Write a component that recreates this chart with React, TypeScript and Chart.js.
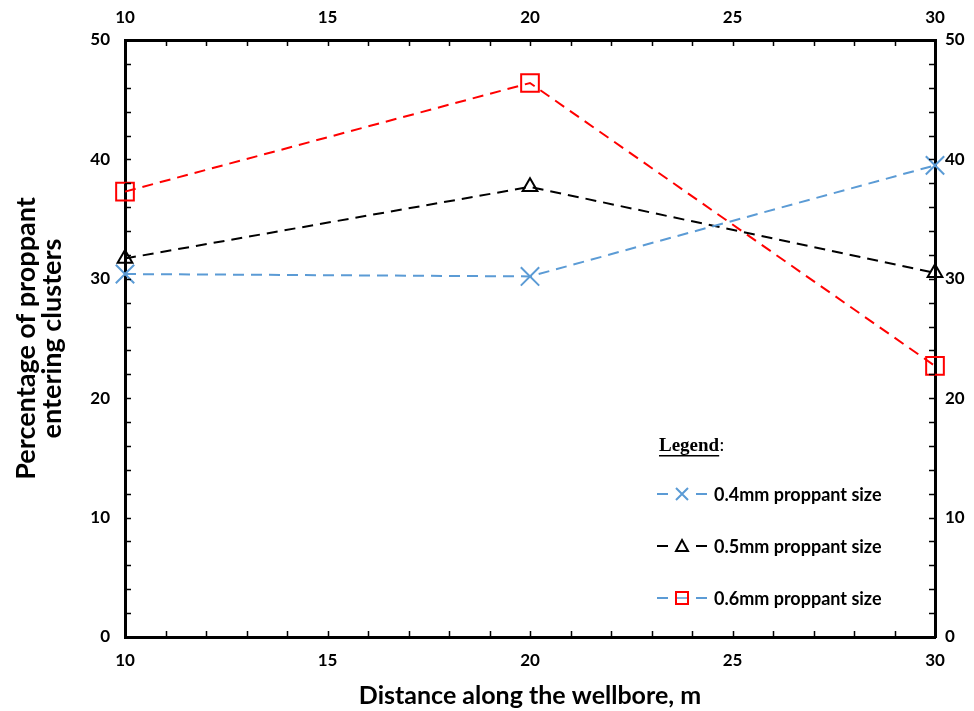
import React, { useEffect, useRef } from "react";
import { Chart, registerables } from "chart.js";

Chart.register(...registerables);

const distances = [10, 20, 30];
const size04 = [30.4, 30.2, 39.5];
const size05 = [31.7, 37.7, 30.5];
const size06 = [37.3, 46.4, 22.7];
const seriesLabels = ["0.4mm proppant size", "0.5mm proppant size", "0.6mm proppant size"];
const xTitle = "Distance along the wellbore, m";
const yTitle = ["Percentage of proppant", "entering clusters"];

const BLUE = "#5B9BD5";
const RED = "#FF0000";
const BLACK = "#000000";
const TICK_FONT = { family: "Lato", size: 17, weight: "bold" as const };

const innerTicks = {
  id: "innerTicks",
  afterDraw(chart: any) {
    const { ctx, chartArea, scales } = chart;
    ctx.save();
    ctx.strokeStyle = "#000";
    ctx.lineWidth = 1.5;
    const x = scales.x;
    for (let v = x.min + 1; v < x.max; v += 1) {
      const px = Math.round(x.getPixelForValue(v)) + 0.5;
      ctx.beginPath();
      ctx.moveTo(px, chartArea.bottom);
      ctx.lineTo(px, chartArea.bottom - 6);
      ctx.moveTo(px, chartArea.top);
      ctx.lineTo(px, chartArea.top + 6);
      ctx.stroke();
    }
    const y = scales.y;
    for (let v = y.min + 2; v < y.max; v += 2) {
      const py = Math.round(y.getPixelForValue(v)) + 0.5;
      ctx.beginPath();
      ctx.moveTo(chartArea.left, py);
      ctx.lineTo(chartArea.left + 6, py);
      ctx.moveTo(chartArea.right, py);
      ctx.lineTo(chartArea.right - 6, py);
      ctx.stroke();
    }
    ctx.restore();
  },
};

const customLegend = {
  id: "customLegend",
  afterDraw(chart: any) {
    const { ctx, chartArea } = chart;
    const lx = chartArea.left + 534;
    const ly = chartArea.top + 406;
    ctx.save();
    ctx.fillStyle = "#000";
    ctx.textBaseline = "middle";
    ctx.font = "bold 19px 'Liberation Serif'";
    const w = ctx.measureText("Legend").width;
    ctx.fillText("Legend", lx, ly);
    ctx.fillRect(lx, ly + 9, w, 1.5);
    ctx.font = "19px 'Liberation Serif'";
    ctx.fillText(":", lx + w, ly);

    const items = [
      { line: BLUE, marker: "crossRot", color: BLUE },
      { line: BLACK, marker: "triangle", color: BLACK },
      { line: BLUE, marker: "rect", color: RED },
    ];
    items.forEach((it, i) => {
      const cy = ly + 48 + i * 52;
      const x0 = lx - 2;
      ctx.strokeStyle = it.line;
      ctx.lineWidth = 2;
      ctx.beginPath();
      ctx.moveTo(x0, cy);
      ctx.lineTo(x0 + 11, cy);
      ctx.moveTo(x0 + 39, cy);
      ctx.lineTo(x0 + 50, cy);
      ctx.stroke();
      ctx.strokeStyle = it.color;
      ctx.lineWidth = 2;
      const mx = x0 + 25;
      if (it.marker === "crossRot") {
        ctx.beginPath();
        ctx.moveTo(mx - 6, cy - 6);
        ctx.lineTo(mx + 6, cy + 6);
        ctx.moveTo(mx + 6, cy - 6);
        ctx.lineTo(mx - 6, cy + 6);
        ctx.stroke();
      } else if (it.marker === "triangle") {
        ctx.beginPath();
        ctx.moveTo(mx, cy - 6);
        ctx.lineTo(mx + 6, cy + 5);
        ctx.lineTo(mx - 6, cy + 5);
        ctx.closePath();
        ctx.stroke();
      } else {
        ctx.strokeRect(mx - 6, cy - 6, 12, 12);
        ctx.strokeStyle = it.line;
        ctx.lineWidth = 1.5;
        ctx.beginPath();
        ctx.moveTo(mx - 5, cy);
        ctx.lineTo(mx + 5, cy);
        ctx.stroke();
      }
      ctx.fillStyle = "#000";
      ctx.font = "bold 18px Lato";
      ctx.fillText(seriesLabels[i], x0 + 57, cy + 1);
    });
    ctx.restore();
  },
};

export default function App() {
  const ref = useRef<HTMLCanvasElement>(null);
  useEffect(() => {
    document.body.style.margin = "0";
    const mk = (vals: number[]) => distances.map((d, i) => ({ x: d, y: vals[i] }));
    const common = {
      borderWidth: 2,
      borderDash: [11, 7],
      pointBorderWidth: 2,
      pointBackgroundColor: "rgba(0,0,0,0)",
      clip: false as const,
      fill: false,
      tension: 0,
    };
    const chart = new Chart(ref.current!, {
      type: "line",
      data: {
        datasets: [
          {
            ...common,
            label: seriesLabels[0],
            data: mk(size04),
            borderColor: BLUE,
            pointBorderColor: BLUE,
            pointStyle: "crossRot",
            pointRadius: 13,
          },
          {
            ...common,
            label: seriesLabels[1],
            data: mk(size05),
            borderColor: BLACK,
            pointBorderColor: BLACK,
            pointStyle: "triangle",
            pointRadius: 8.5,
          },
          {
            ...common,
            label: seriesLabels[2],
            data: mk(size06),
            borderColor: RED,
            pointBorderColor: RED,
            pointStyle: "rect",
            pointRadius: 12.5,
          },
        ],
      },
      options: {
        animation: false,
        responsive: false,
        maintainAspectRatio: false,
        layout: { padding: 0 },
        plugins: { legend: { display: false }, tooltip: { enabled: false } },
        scales: {
          x: {
            type: "linear",
            position: "bottom",
            min: 10,
            max: 30,
            ticks: { stepSize: 5, color: "#000", font: TICK_FONT, padding: 13 },
            grid: { drawOnChartArea: false, drawTicks: false },
            border: { color: "#000", width: 3 },
            title: {
              display: true,
              text: xTitle,
              color: "#000",
              font: { family: "Lato", size: 25, weight: "bold" },
              padding: { top: 6, bottom: 0 },
            },
            afterFit(s: any) { s.height = 74; },
          },
          x2: {
            type: "linear",
            position: "top",
            min: 10,
            max: 30,
            ticks: { stepSize: 5, color: "#000", font: TICK_FONT, padding: 12 },
            grid: { drawOnChartArea: false, drawTicks: false },
            border: { color: "#000", width: 3 },
            afterFit(s: any) { s.height = 40; },
          },
          y: {
            type: "linear",
            position: "left",
            min: 0,
            max: 50,
            ticks: { stepSize: 10, color: "#000", font: TICK_FONT, padding: 15 },
            grid: { drawOnChartArea: false, drawTicks: false },
            border: { color: "#000", width: 3 },
            title: {
              display: true,
              text: yTitle,
              color: "#000",
              font: { family: "Lato", size: 27, weight: "bold", lineHeight: 0.97 },
              padding: { top: 13, bottom: 0 },
            },
            afterFit(s: any) { s.width = 125; },
          },
          y2: {
            type: "linear",
            position: "right",
            min: 0,
            max: 50,
            ticks: { stepSize: 10, color: "#000", font: TICK_FONT, padding: 10 },
            grid: { drawOnChartArea: false, drawTicks: false },
            border: { color: "#000", width: 3 },
            afterFit(s: any) { s.width = 39; },
          },
        },
      },
      plugins: [innerTicks, customLegend],
    });
    return () => chart.destroy();
  }, []);
  return (
    <div style={{ width: 974, height: 711 }}>
      <canvas ref={ref} width={974} height={711} style={{ width: 974, height: 711 }} />
    </div>
  );
}
